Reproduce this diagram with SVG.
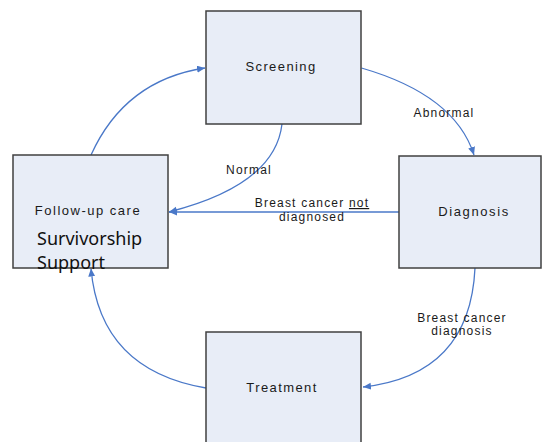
<svg xmlns="http://www.w3.org/2000/svg" width="543" height="442" viewBox="0 0 543 442">
<style>
.box{fill:#E8EDF7;stroke:#404040;stroke-width:1.5}
.nt{font-family:"Liberation Sans",Arial,sans-serif;font-size:13px;fill:#1a1a1a;text-anchor:middle}
.lb{font-family:"Liberation Sans",Arial,sans-serif;font-size:12px;fill:#1a1a1a;text-anchor:middle;letter-spacing:1.2px}
.cn{fill:none;stroke:#4A78C8;stroke-width:1.3}
.big{font-family:"Noto Sans","Open Sans",sans-serif;font-size:18px;fill:#111}
</style>
<defs>
<marker id="ah" markerUnits="userSpaceOnUse" markerWidth="9" markerHeight="8" refX="8" refY="3.5" orient="auto">
<path d="M0,0 L8,3.5 L0,7 z" fill="#4A78C8"/>
</marker>
</defs>
<g id="connectors">
<path class="cn" d="M361.5,68 Q455,95 474,155" marker-end="url(#ah)"/>
<path class="cn" d="M282,124 Q275,185 169,212" marker-end="url(#ah)"/>
<path class="cn" d="M399,212 L169,212" marker-end="url(#ah)"/>
<path class="cn" d="M475,268 Q470,375 363,387" marker-end="url(#ah)"/>
<path class="cn" d="M206,388 Q100,370 91,268.5" marker-end="url(#ah)"/>
<path class="cn" d="M91,155 Q125,80 205,68" marker-end="url(#ah)"/>
<text class="lb" x="444" y="117">Abnormal</text>
<text class="lb" x="249" y="174">Normal</text>
<text class="lb" x="312" y="207">Breast cancer <tspan text-decoration="underline">not</tspan></text>
<text class="lb" x="312" y="221">diagnosed</text>
<text class="lb" x="462" y="322">Breast cancer</text>
<text class="lb" x="462" y="335">diagnosis</text>
</g>
<g id="screening">
<rect class="box" x="206" y="11" width="155" height="113"/>
<text class="nt" x="281" y="71" letter-spacing="1.4">Screening</text>
</g>
<g id="diagnosis">
<rect class="box" x="399" y="156" width="142" height="112"/>
<text class="nt" x="474" y="216" letter-spacing="1.6">Diagnosis</text>
</g>
<g id="followup">
<rect class="box" x="13" y="155" width="155" height="113"/>
<text class="nt" x="88" y="215" letter-spacing="1.5">Follow-up care</text>
<text class="big" x="37" y="245">Survivorship</text>
<text class="big" x="37" y="269">Support</text>
</g>
<g id="treatment">
<rect class="box" x="206" y="332" width="155" height="120"/>
<text class="nt" x="282" y="392" letter-spacing="1.4">Treatment</text>
</g>
</svg>
